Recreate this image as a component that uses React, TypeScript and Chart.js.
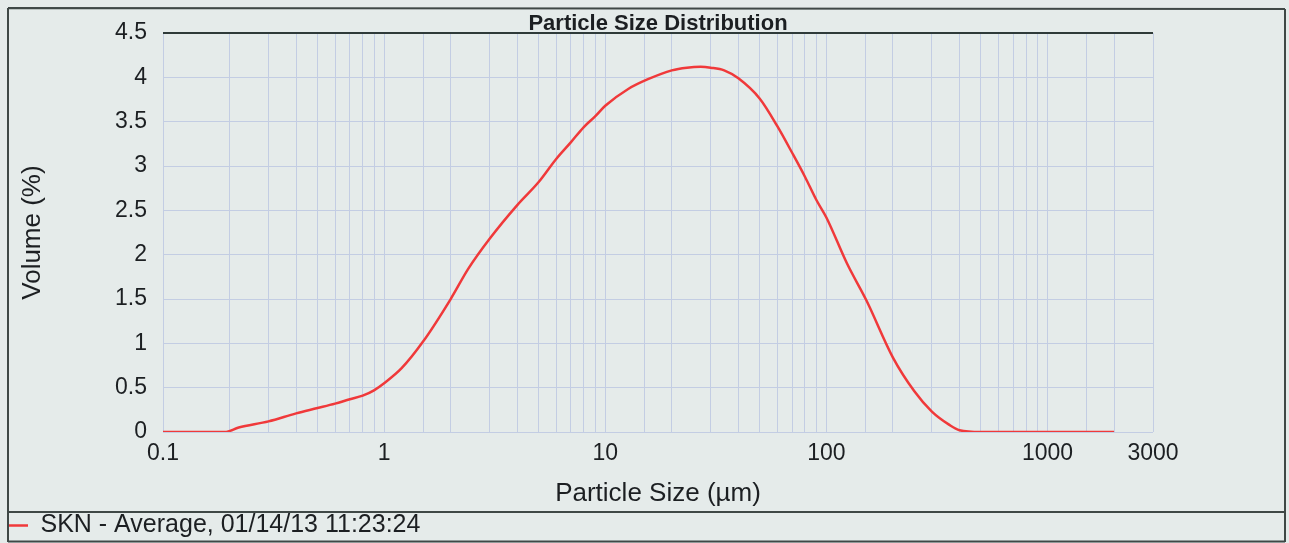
import React, { useEffect, useRef } from "react";
import { Chart, registerables } from "chart.js";

Chart.register(...registerables);

const chartTitle = "Particle Size Distribution";
const seriesLabel = "SKN - Average, 01/14/13 11:23:24";
const xAxisTitle = "Particle Size (µm)";
const yAxisTitle = "Volume (%)";

// particle size (µm)
const sizes = [
  0.1, 0.15, 0.19, 0.22, 0.3, 0.4, 0.5, 0.6, 0.7, 0.8, 0.9, 1.0, 1.2, 1.5, 2.0,
  2.4, 3, 4, 5, 6, 7, 8, 9, 10, 12.7, 15.6, 20, 23.4, 27, 30, 34.5, 40, 50, 60,
  70, 80, 90, 100, 124, 152, 200, 250, 300, 360, 400, 500, 700, 1000, 1500, 2000,
];
// volume (%)
const volumes = [
  0, 0, 0, 0.05, 0.12, 0.21, 0.27, 0.32, 0.37, 0.41, 0.47, 0.55, 0.72, 1.02, 1.5,
  1.84, 2.18, 2.56, 2.82, 3.08, 3.27, 3.44, 3.56, 3.68, 3.87, 3.98, 4.08, 4.11,
  4.12, 4.11, 4.08, 3.99, 3.76, 3.45, 3.15, 2.88, 2.62, 2.42, 1.9, 1.48, 0.84,
  0.46, 0.23, 0.08, 0.02, 0, 0, 0, 0, 0,
];

const xLabelTicks = [0.1, 1, 10, 100, 1000, 3000];
const xMin = 0.1;
const xMax = 3000;
const yMin = 0;
const yMax = 4.5;
const yStep = 0.5;

const BG = "#e5ebea";
const GRID = "#c3cde3";
const TEXT = "#1c1f22";
const RED = "#f0393a";
const FONT = "'Liberation Sans', Arial, sans-serif";

const framePlugin = {
  id: "frame",
  beforeDraw(chart: any) {
    const { ctx, width, height } = chart;
    ctx.save();
    ctx.fillStyle = BG;
    ctx.fillRect(0, 0, width, height);
    ctx.restore();
  },
  afterDraw(chart: any) {
    const { ctx, width, height, legend } = chart;
    ctx.save();
    ctx.strokeStyle = "#3f4846";
    ctx.lineWidth = 2;
    ctx.beginPath();
    ctx.moveTo(8, 8);
    ctx.lineTo(width - 4, 9);
    ctx.moveTo(8, 8);
    ctx.lineTo(8, height - 1);
    ctx.moveTo(width - 4, 9);
    ctx.lineTo(width - 4, height - 1);
    const ly = Math.round(legend.top) - 1;
    ctx.moveTo(8, ly);
    ctx.lineTo(width - 4, ly);
    ctx.moveTo(8, height - 1.5);
    ctx.lineTo(width - 4, height - 1.5);
    ctx.stroke();
    ctx.restore();
  },
};

export default function App() {
  const ref = useRef<HTMLCanvasElement | null>(null);

  useEffect(() => {
    document.body.style.margin = "0";
    document.body.style.background = BG;
    const canvas = ref.current;
    if (!canvas) return;
    const chart = new Chart(canvas, {
      type: "line",
      data: {
        datasets: [
          {
            label: seriesLabel,
            data: sizes.map((s, i) => ({ x: s, y: volumes[i] })),
            borderColor: RED,
            backgroundColor: RED,
            borderWidth: 2.5,
            pointRadius: 0,
            cubicInterpolationMode: "monotone",
            fill: false,
          },
        ],
      },
      plugins: [framePlugin],
      options: {
        animation: false,
        responsive: false,
        maintainAspectRatio: false,
        layout: { padding: { left: 8, right: 136, top: 6, bottom: -5 } },
        plugins: {
          title: {
            display: true,
            fullSize: false,
            text: chartTitle,
            color: TEXT,
            font: { family: FONT, size: 22, weight: "bold", lineHeight: 0.8 },
            padding: { top: 9, bottom: 0.5 },
          },
          legend: {
            display: true,
            position: "bottom",
            align: "start",
            labels: {
              color: TEXT,
              font: { family: FONT, size: 25 },
              usePointStyle: true,
              pointStyle: "line",
              pointStyleWidth: 20,
              padding: 0,
            },
          },
          tooltip: { enabled: false },
        },
        scales: {
          x: {
            type: "logarithmic",
            min: xMin,
            max: xMax,
            border: { display: false },
            grid: {
              color: GRID,
              lineWidth: 1,
              drawTicks: false,
            },
            ticks: {
              autoSkip: false,
              maxRotation: 0,
              padding: 8,
              color: TEXT,
              font: { family: FONT, size: 23 },
              callback: (v: any) =>
                xLabelTicks.some((t) => Math.abs(t - Number(v)) < 1e-9 * Math.max(1, t))
                  ? String(Number(v))
                  : "",
            },
            title: {
              display: true,
              text: xAxisTitle,
              color: TEXT,
              font: { family: FONT, size: 26 },
              padding: { top: 0, bottom: 4 },
            },
            afterFit: (scale: any) => {
              scale.height = 81;
            },
          },
          y: {
            min: yMin,
            max: yMax,
            border: { display: false },
            grid: {
              color: (c: any) => (c.tick && c.tick.value === yMax ? "#2f3a38" : GRID),
              lineWidth: (c: any) => (c.tick && c.tick.value === yMax ? 2 : 1),
              drawTicks: false,
            },
            ticks: {
              stepSize: yStep,
              padding: 16,
              color: TEXT,
              font: { family: FONT, size: 23 },
              callback: (v: any) => String(Number(v)),
            },
            title: {
              display: true,
              text: yAxisTitle,
              color: TEXT,
              font: { family: FONT, size: 26 },
              padding: { top: 9, bottom: 0 },
            },
            afterFit: (scale: any) => {
              scale.width = 155;
            },
          },
        },
      },
    });
    return () => chart.destroy();
  }, []);

  return (
    <div style={{ position: "fixed", left: 0, top: 0, width: 1289, height: 543, background: BG, overflow: "hidden" }}>
      <canvas ref={ref} width={1289} height={543} style={{ width: 1289, height: 543, display: "block" }} />
    </div>
  );
}
